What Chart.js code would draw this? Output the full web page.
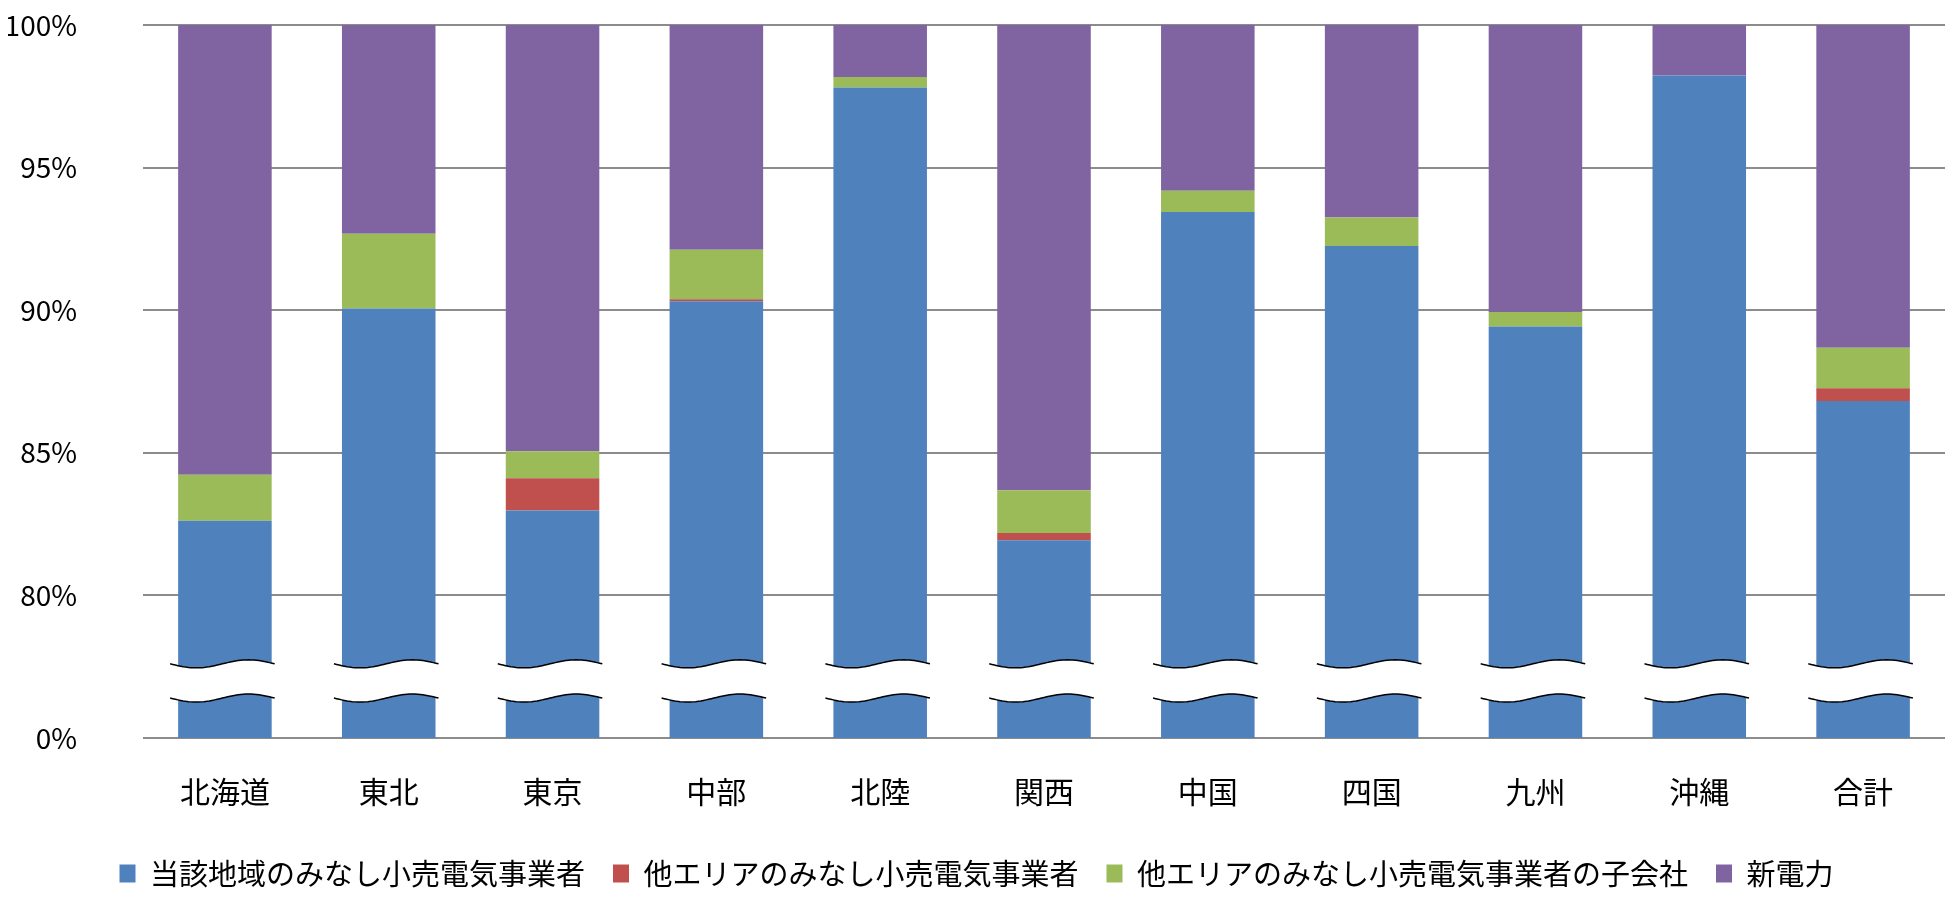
<!DOCTYPE html>
<html>
<head>
<meta charset="utf-8">
<script src="https://cdn.jsdelivr.net/npm/chart.js@4"></script>
<style>
  html, body { margin: 0; padding: 0; background: #fff; }
  #wrap { width: 1956px; height: 902px; }
</style>
</head>
<body>
<div id="wrap"><canvas id="c"></canvas></div>
<script>
// regions
const categories = ['北海道', '東北', '東京', '中部', '北陸', '関西', '中国', '四国', '九州', '沖縄', '合計'];

// shares in %
const localIncumbent = [82.62, 90.06, 82.98, 90.31, 97.81, 81.93, 93.44, 92.25, 89.43, 98.23, 86.82];
const otherIncumbent = [0, 0, 1.13, 0.07, 0, 0.26, 0, 0, 0, 0, 0.44];
const otherSubsidiary = [1.61, 2.62, 0.94, 1.74, 0.37, 1.50, 0.75, 1.00, 0.51, 0, 1.42];
const newPower = [15.77, 7.32, 14.95, 7.88, 1.82, 16.31, 5.81, 6.75, 10.06, 1.77, 11.32];

const seriesNames = ['当該地域のみなし小売電気事業者', '他エリアのみなし小売電気事業者', '他エリアのみなし小売電気事業者の子会社', '新電力'];

// axis is broken: 75 on the scale stands for 0%
const yTicks = [75, 80, 85, 90, 95, 100];
const breakTop = 77.6;
const breakBottom = 76.4;

const FONT = '"Noto Sans CJK JP", "Noto Sans", sans-serif';

// white gap with wavy edges over each bar
const axisBreak = {
    id: 'axisBreak',
    afterDatasetsDraw(chart) {
        const ctx = chart.ctx;
        const y = chart.scales.y;
        const meta = chart.getDatasetMeta(0);
        const yUp = y.getPixelForValue(breakTop);
        const yLo = y.getPixelForValue(breakBottom);
        const amp = 4;
        meta.data.forEach(bar => {
            const x0 = bar.x - bar.width / 2 - 8;
            const x1 = bar.x + bar.width / 2 + 3;
            const wave = (yc, reverse) => {
                const n = 40;
                for (let k = 0; k <= n; k++) {
                    const t = reverse ? 1 - k / n : k / n;
                    const px = x0 + (x1 - x0) * t;
                    const py = yc + amp * Math.sin(2 * Math.PI * t);
                    if (k === 0 && !reverse) ctx.moveTo(px, py); else ctx.lineTo(px, py);
                }
            };
            ctx.save();
            ctx.beginPath();
            wave(yUp, false);
            wave(yLo, true);
            ctx.closePath();
            ctx.fillStyle = '#ffffff';
            ctx.fill();
            ctx.strokeStyle = '#000000';
            ctx.lineWidth = 1.5;
            ctx.beginPath();
            wave(yUp, false);
            ctx.stroke();
            ctx.beginPath();
            wave(yLo, false);
            ctx.stroke();
            ctx.restore();
        });
    }
};

document.addEventListener("DOMContentLoaded", function() {
    const ctx = document.getElementById('c');

    new Chart(ctx, {
        type: 'bar',
        data: {
            labels: categories,
            datasets: [
                { label: seriesNames[0], data: localIncumbent, backgroundColor: '#4F81BD' },
                { label: seriesNames[1], data: otherIncumbent, backgroundColor: '#C0504D' },
                { label: seriesNames[2], data: otherSubsidiary, backgroundColor: '#9BBB59' },
                { label: seriesNames[3], data: newPower, backgroundColor: '#8064A2' }
            ]
        },
        options: {
            responsive: true,
            maintainAspectRatio: false,
            animation: false,
            layout: {
                padding: { top: 25, right: 11, left: 8, bottom: 4 }
            },
            datasets: {
                bar: {
                    categoryPercentage: 1,
                    barPercentage: 0.571
                }
            },
            scales: {
                x: {
                    stacked: true,
                    grid: { display: false },
                    border: { display: false },
                    ticks: {
                        color: '#000000',
                        font: { family: FONT, size: 30 },
                        padding: 28
                    },
                    afterFit: s => { s.height = 93; }
                },
                y: {
                    stacked: true,
                    min: 75,
                    max: 100,
                    afterBuildTicks: s => { s.ticks = yTicks.map(v => ({ value: v })); },
                    grid: {
                        color: '#8c8c8c',
                        lineWidth: 2,
                        drawTicks: true,
                        tickLength: 62,
                        tickColor: 'rgba(0,0,0,0)'
                    },
                    border: { display: false },
                    ticks: {
                        color: '#000000',
                        font: { family: FONT, size: 28 },
                        padding: 4,
                        callback: v => (v === 75 ? '0' : v) + '%'
                    },
                    afterFit: s => { s.width = 135; }
                }
            },
            plugins: {
                tooltip: { enabled: false },
                legend: {
                    position: 'bottom',
                    labels: {
                        color: '#000000',
                        font: { family: FONT, size: 29 },
                        boxWidth: 16,
                        boxHeight: 18,
                        padding: 28
                    }
                }
            }
        },
        plugins: [axisBreak]
    });
});
</script>
</body>
</html>
